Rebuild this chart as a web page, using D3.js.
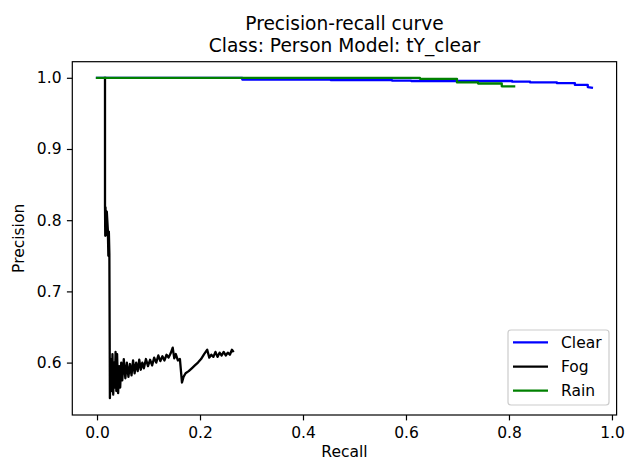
<!DOCTYPE html>
<html>
<head>
<meta charset="utf-8">
<script src="https://cdn.jsdelivr.net/npm/d3@7"></script>
<style>
  body { margin: 0; background: #fff; }
  svg text { font-family: "DejaVu Sans", sans-serif; fill: #000; }
</style>
</head>
<body>
<div id="chart"></div>
<script>
// --- data ---
var clearRecall = [0, 0.282, 0.282, 0.454, 0.454, 0.573, 0.573, 0.610, 0.610, 0.806,
  0.806, 0.841, 0.841, 0.893, 0.893, 0.928, 0.928, 0.953, 0.953, 0.961]
var clearPrecision = [1.0, 1.0, 0.9976, 0.9976, 0.9966, 0.9966, 0.9960, 0.9960, 0.9955, 0.9955,
  0.9945, 0.9945, 0.9935, 0.9935, 0.9925, 0.9925, 0.9900, 0.9900, 0.9870, 0.9860]

var fogRecall = [
  0.0155, 0.0155, 0.0160, 0.0165, 0.0175, 0.0190, 0.0210, 0.0220, 0.0230, 0.0240,
  0.0250, 0.0270, 0.0285, 0.0300, 0.0315, 0.0330, 0.0345, 0.0360, 0.0375, 0.0390,
  0.0410, 0.0430, 0.0450, 0.0470, 0.0490, 0.0520, 0.0550, 0.0580, 0.0610, 0.0640,
  0.0670, 0.0700, 0.0730, 0.0760, 0.0790, 0.0820, 0.0850, 0.0880, 0.0910, 0.0950,
  0.0990, 0.1030, 0.1070, 0.1110, 0.1150, 0.1190, 0.1230, 0.1270, 0.1310, 0.1350,
  0.1390, 0.1430, 0.1470, 0.1500, 0.1530, 0.1570, 0.1610, 0.1650, 0.1680, 0.1720,
  0.1780, 0.1840, 0.1900, 0.1960, 0.2020, 0.2080, 0.2140, 0.2180, 0.2220, 0.2260,
  0.2300, 0.2340, 0.2380, 0.2420, 0.2460, 0.2500, 0.2540, 0.2580, 0.2620, 0.2640]
var fogPrecision = [
  1.000, 0.820, 0.778, 0.818, 0.779, 0.812, 0.787, 0.750, 0.784, 0.752,
  0.550, 0.605, 0.560, 0.612, 0.555, 0.600, 0.565, 0.615, 0.560, 0.612,
  0.557, 0.595, 0.565, 0.600, 0.575, 0.605, 0.578, 0.600, 0.580, 0.598,
  0.582, 0.603, 0.585, 0.600, 0.588, 0.604, 0.590, 0.600, 0.592, 0.605,
  0.595, 0.604, 0.596, 0.607, 0.600, 0.610, 0.602, 0.609, 0.603, 0.611,
  0.607, 0.613, 0.621, 0.606, 0.612, 0.603, 0.605, 0.572, 0.580, 0.585,
  0.588, 0.592, 0.596, 0.600, 0.605, 0.612, 0.618, 0.607, 0.611, 0.608,
  0.615, 0.608, 0.614, 0.610, 0.615, 0.610, 0.614, 0.611, 0.618, 0.616]

var rainRecall = [0, 0.627, 0.627, 0.699, 0.699, 0.740, 0.740, 0.786, 0.786, 0.810]
var rainPrecision = [1.0, 1.0, 0.9985, 0.9985, 0.9935, 0.9935, 0.9920, 0.9920, 0.9880, 0.9880]

var seriesNames = ['Clear', 'Fog', 'Rain']
var seriesColors = ['#0000ff', '#000000', '#008000']
var xTicks = [0, 0.2, 0.4, 0.6, 0.8, 1.0]
var yTicks = [0.6, 0.7, 0.8, 0.9, 1.0]

var series = [
  {name: seriesNames[0], color: seriesColors[0], r: clearRecall, p: clearPrecision},
  {name: seriesNames[1], color: seriesColors[1], r: fogRecall, p: fogPrecision},
  {name: seriesNames[2], color: seriesColors[2], r: rainRecall, p: rainPrecision}
]

var width = 628, height = 461
var plot = {left: 72.3, right: 616.6, top: 61.7, bottom: 415}

var svg = d3.select('#chart').append('svg')
  .attr('width', width)
  .attr('height', height)

var x = d3.scaleLinear().domain([-0.048, 1.009]).range([plot.left, plot.right])
var y = d3.scaleLinear().domain([0.5264, 1.0226]).range([plot.bottom, plot.top])

var line = d3.line()
  .x(function (d) { return x(d[0]) })
  .y(function (d) { return y(d[1]) })

svg.append('clipPath').attr('id', 'clip')
  .append('rect')
  .attr('x', plot.left).attr('y', plot.top)
  .attr('width', plot.right - plot.left).attr('height', plot.bottom - plot.top)

var lines = svg.append('g').attr('clip-path', 'url(#clip)')
series.forEach(function (s) {
  var pts = s.r.map(function (v, i) { return [v, s.p[i]] })
  lines.append('path')
    .attr('d', line(pts))
    .attr('fill', 'none')
    .attr('stroke', s.color)
    .attr('stroke-width', 2.3)
    .attr('stroke-linejoin', 'round')
    .attr('stroke-linecap', 'square')
})

// axes
var xAxis = svg.append('g')
  .attr('transform', 'translate(0,' + plot.bottom + ')')
  .call(d3.axisBottom(x).tickValues(xTicks).tickFormat(d3.format('.1f')).tickSizeOuter(0).tickSize(5.4).tickPadding(6.5))
var yAxis = svg.append('g')
  .attr('transform', 'translate(' + plot.left + ',0)')
  .call(d3.axisLeft(y).tickValues(yTicks).tickFormat(d3.format('.1f')).tickSizeOuter(0).tickSize(5.4).tickPadding(5.4))

;[xAxis, yAxis].forEach(function (g) {
  g.select('.domain').remove()
  g.selectAll('line').attr('stroke', '#000').attr('stroke-width', 1.2)
  g.selectAll('text').attr('font-size', 15.5).attr('font-family', 'DejaVu Sans').attr('fill', '#000')
})

// spines
svg.append('rect')
  .attr('x', plot.left).attr('y', plot.top)
  .attr('width', plot.right - plot.left).attr('height', plot.bottom - plot.top)
  .attr('fill', 'none')
  .attr('stroke', '#000')
  .attr('stroke-width', 1.2)

// labels
svg.append('text')
  .attr('x', (plot.left + plot.right) / 2).attr('y', 456.5)
  .attr('text-anchor', 'middle').attr('font-size', 15.5)
  .text('Recall')

svg.append('text')
  .attr('transform', 'translate(24,' + (plot.top + plot.bottom) / 2 + ') rotate(-90)')
  .attr('text-anchor', 'middle').attr('font-size', 15.5)
  .text('Precision')

var cx = (plot.left + plot.right) / 2
svg.append('text')
  .attr('x', cx).attr('y', 29.5)
  .attr('text-anchor', 'middle').attr('font-size', 18.6)
  .text('Precision-recall curve')
svg.append('text')
  .attr('x', cx).attr('y', 52)
  .attr('text-anchor', 'middle').attr('font-size', 18.6)
  .text('Class: Person Model: tY_clear')

// legend
var legend = svg.append('g')
legend.append('rect')
  .attr('x', 508).attr('y', 330)
  .attr('width', 101).attr('height', 75)
  .attr('rx', 3)
  .attr('fill', '#fff').attr('fill-opacity', 0.8)
  .attr('stroke', '#cccccc').attr('stroke-width', 1.2)

var rowY = [342.3, 366.7, 390.7]
series.forEach(function (s, i) {
  legend.append('line')
    .attr('x1', 513).attr('x2', 548)
    .attr('y1', rowY[i]).attr('y2', rowY[i])
    .attr('stroke', s.color).attr('stroke-width', 2.3)
  legend.append('text')
    .attr('x', 561).attr('y', rowY[i] + 5.5)
    .attr('font-size', 15.5)
    .text(s.name)
})
</script>
</body>
</html>
